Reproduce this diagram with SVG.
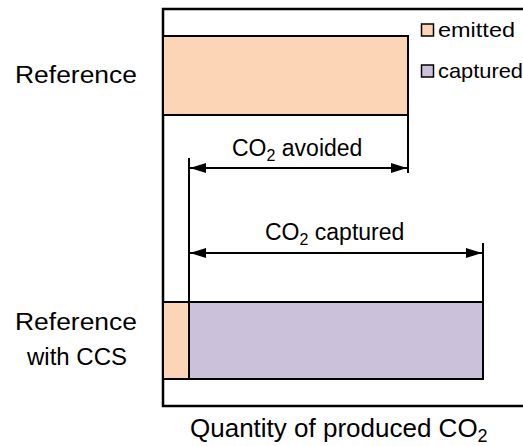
<svg xmlns="http://www.w3.org/2000/svg" width="523" height="446" viewBox="0 0 523 446">
<style>
text{font-family:"Liberation Sans",Arial,sans-serif;fill:#000}
.lbl{font-size:23px}
.leg{font-size:21px}
.dim{font-size:23px}
.bar{stroke:#000;stroke-width:2}
.em{fill:#FBD5B5}
.ca{fill:#CCC1DA}
.ln{stroke:#000;stroke-width:2;fill:none}
</style>
<defs>
<marker id="ah" viewBox="0 0 16 10" refX="16" refY="5" markerWidth="16" markerHeight="10" markerUnits="userSpaceOnUse" orient="auto-start-reverse">
<path d="M0,0 L16,5 L0,10 Z" fill="#000"/>
</marker>
</defs>
<g id="frame">
<path d="M523,9 H163 V406 H523" fill="none" stroke="#000" stroke-width="2.5"/>
</g>
<g id="labels">
<text class="lbl" x="76" y="83" text-anchor="middle" textLength="122" lengthAdjust="spacingAndGlyphs">Reference</text>
<text class="lbl" x="76" y="330" text-anchor="middle" textLength="122" lengthAdjust="spacingAndGlyphs">Reference</text>
<text class="lbl" x="77" y="365" text-anchor="middle" textLength="100" lengthAdjust="spacingAndGlyphs">with CCS</text>
</g>
<g id="bar-reference">
<rect class="bar em" x="163" y="36" width="245" height="79"/>
</g>
<g id="bar-ccs">
<rect class="bar em" x="163" y="302" width="26" height="77"/>
<rect class="bar ca" x="189" y="302" width="294" height="77"/>
</g>
<g id="legend">
<rect class="em" x="421.5" y="24" width="12" height="12" stroke="#000" stroke-width="1.5"/>
<text class="leg" x="438" y="37" textLength="77" lengthAdjust="spacingAndGlyphs">emitted</text>
<rect class="ca" x="421.5" y="65" width="12" height="12" stroke="#000" stroke-width="1.5"/>
<text class="leg" x="438" y="78" textLength="85" lengthAdjust="spacingAndGlyphs">captured</text>
</g>
<g id="connectors">
<line class="ln" x1="189" y1="158" x2="189" y2="302"/>
<line class="ln" x1="408" y1="115" x2="408" y2="173"/>
<line class="ln" x1="483" y1="243" x2="483" y2="302"/>
<line class="ln" x1="190" y1="168" x2="407" y2="168" marker-start="url(#ah)" marker-end="url(#ah)"/>
<line class="ln" x1="190" y1="253" x2="482" y2="253" marker-start="url(#ah)" marker-end="url(#ah)"/>
</g>
<g id="dim-labels">
<text class="dim" x="232" y="156">CO<tspan font-size="16" dy="5">2</tspan><tspan dy="-5"> avoided</tspan></text>
<text class="dim" x="265" y="240">CO<tspan font-size="16" dy="5">2</tspan><tspan dy="-5"> captured</tspan></text>
</g>
<g id="axis-label">
<text x="190" y="437" font-size="26">Quantity of produced CO<tspan font-size="18" dy="5">2</tspan></text>
</g>
</svg>
